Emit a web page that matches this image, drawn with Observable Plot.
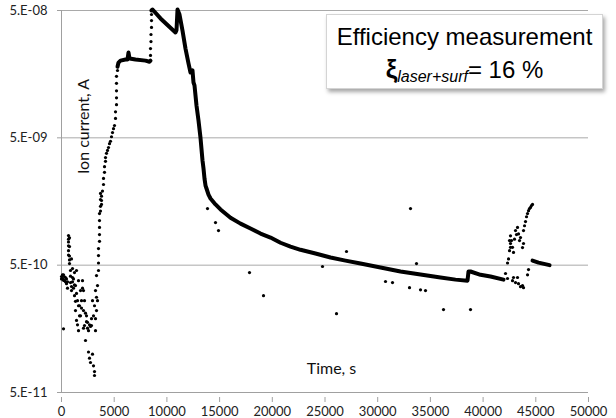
<!DOCTYPE html>
<html><head><meta charset="utf-8">
<script src="https://cdn.jsdelivr.net/npm/d3@7"></script>
<script src="https://cdn.jsdelivr.net/npm/@observablehq/plot@0.6"></script>
<style>
body{margin:0;background:#fff;}
#wrap{position:relative;width:616px;height:418px;overflow:hidden;background:#fff;}
#note{position:absolute;left:326px;top:14px;width:277px;height:75px;background:#fff;border:1px solid #d4d4d4;box-shadow:2px 3px 4px rgba(0,0,0,0.35);font-family:"Liberation Sans",Arial,sans-serif;color:#000;box-sizing:border-box;}
#note .l{position:absolute;left:0;right:0;text-align:center;font-size:24px;line-height:24px;white-space:nowrap;}
#note .l1{top:9.7px;}
#note .l2{top:41.7px;}
#note b{font-size:26px;font-weight:bold;}
#note i{font-size:16px;vertical-align:-4px;}
</style></head><body><div id="wrap"><div id="note"><div class="l l1">Efficiency measurement</div><div class="l l2"><b>ξ</b><i>laser+surf</i>= 16 %</div></div></div>
<script>
// Tick values and labels
const xTicks = [0,5000,10000,15000,20000,25000,30000,35000,40000,45000,50000];
const xTickLabels = ["0","5000","10000","15000","20000","25000","30000","35000","40000","45000","50000"];
const yTicks = [5e-11,5e-10,5e-9,5e-8];
const yTickLabels = ["5.E-11","5.E-10","5.E-09","5.E-08"];
const gridValues = [5e-10,5e-9,5e-8];

// Noisy start (time s, current A)
const earlyPoints = [
 [0,4.07e-10],[0,3.9e-10],[95,3.93e-10],[95,4.2e-10],[190,4.2e-10],[190,3.8e-10],[285,3.78e-10],[285,4.05e-10],[380,4.0e-10],[380,3.7e-10],[474,3.58e-10],[474,3.9e-10],[190,1.58e-10],
 [569,3.7e-10],[569,3.3e-10],
 [664,8.54e-10],[664,8.0e-10],[664,7.6e-10],[664,7.1e-10],[664,6.5e-10],[664,6.0e-10],[759,8.2e-10],[759,7.0e-10],[759,5.9e-10],[759,5.5e-10],[759,5.15e-10],
 [854,4.54e-10],[854,4.1e-10],[854,3.65e-10],[949,5.6e-10],[949,3.4e-10],[949,3.16e-10],[1044,4.0e-10],[1044,4.7e-10],[1044,3.7e-10],[1139,3.9e-10],[1139,3.3e-10],
 [1233,4.37e-10],[1233,3.5e-10],[1233,2.88e-10],[1328,3.46e-10],[1328,2.6e-10],[1328,2.2e-10],[1423,4.54e-10],[1423,3.0e-10],[1423,1.84e-10],[1518,2.63e-10],[1518,1.7e-10],
 [1613,3.78e-10],[1613,2.4e-10],[1613,1.53e-10],[1708,2.4e-10],[1708,2.0e-10],[1803,3.16e-10],[1803,2.0e-10],[1898,2.63e-10],[1898,2.3e-10],
 [1992,3.78e-10],[1992,3.3e-10],[2087,3.16e-10],[2087,2.2e-10],[2087,1.6e-10],[2182,2.63e-10],[2182,1.68e-10],[2277,1.28e-10],[2277,2.1e-10],[2372,2.0e-10],[2372,1.8e-10],
 [2467,1.78e-10],[2467,1.6e-10],[2562,1.53e-10],[2562,1.04e-10],[2657,9.3e-11],[2657,1.7e-10],[2751,8.6e-11],[2751,1.65e-10],[2846,1.68e-10],[2846,1.9e-10],
 [2941,2.63e-10],[2941,1.0e-10],[3036,2.0e-10],[3036,8.1e-11],[3131,6.8e-11],[3131,7.3e-11],[3131,2.4e-10],[3226,3.16e-10],[3226,1.53e-10],[3226,1.9e-10],
 [3321,4.14e-10],[3321,2.2e-10],[3321,2.8e-10],[3416,3.46e-10],[3416,2.63e-10]
];

// Sparse rise to the first plateau
const risePoints = [
 [3510,4.54e-10],[3510,5.2e-10],[3510,5.95e-10],[3510,6.75e-10],[3605,7.7e-10],[3605,8.7e-10],[3605,9.9e-10],[3605,1.12e-9],[3605,1.27e-9],
 [3700,1.33e-9],[3700,1.45e-9],[3700,1.64e-9],[3700,1.83e-9],[3795,1.5e-9],[3795,1.61e-9],[3795,1.74e-9],[3890,1.91e-9],[3985,2.15e-9],[3985,2.4e-9],
 [4080,2.68e-9],[4080,2.97e-9],[4175,3.27e-9],[4175,3.5e-9],[4270,3.78e-9],[4364,3.98e-9],[4459,4.2e-9],[4554,4.5e-9],[4649,4.7e-9],[4744,5.1e-9],
 [4839,5.5e-9],[4934,5.9e-9],[5029,6.25e-9],[5123,7.1e-9],[5123,8.0e-9],[5218,9.1e-9],[5218,1.03e-8],[5218,1.17e-8],[5218,1.34e-8],[5218,1.52e-8],[5313,1.69e-8],
 [8444,2.22e-8],[8444,2.51e-8],[8490,2.85e-8],[8490,3.24e-8],[8539,3.68e-8],[8539,4.17e-8],[8539,4.65e-8]
];

// Dense plateau
const plateauPoints = [
 [5313,1.81e-8],[5408,1.95e-8],[5598,2.02e-8],[6072,2.06e-8],[6262,2.06e-8],[6357,2.34e-8],[6452,2.1e-8],[7021,2.06e-8],[7970,2.02e-8],[8349,1.98e-8],[8444,2.02e-8]
];

// Peaks and long decay
const decayPoints = [
 [8539,5.0e-8],[8634,5.09e-8],[9393,4.33e-8],[10816,3.36e-8],[10911,3.5e-8],[11006,5.09e-8],[11196,4.65e-8],[11480,3.48e-8],[11764,2.51e-8],
 [12049,1.92e-8],[12239,1.63e-8],[12428,1.69e-8],[12524,1.36e-8],[12618,1.29e-8],[12808,8.97e-9],[12998,6.84e-9],[13188,5.0e-9],[13378,3.32e-9],
 [13473,2.87e-9],[13568,2.39e-9],[13663,2.11e-9],[13757,2.0e-9],[13947,1.79e-9],[14137,1.67e-9],[14611,1.5e-9],[15086,1.37e-9],[16035,1.18e-9],
 [16984,1.06e-9],[17932,9.7e-10],[18881,8.85e-10],[19830,8.24e-10],[20779,7.5e-10],[21728,7.0e-10],[22676,6.6e-10],[24099,6.17e-10],[25522,5.74e-10],
 [26945,5.43e-10],[28369,5.15e-10],[30266,4.8e-10],[32164,4.46e-10],[34062,4.22e-10],[35959,4.0e-10],[37383,3.85e-10],[38521,3.78e-10],
 [38616,4.46e-10],[38806,4.46e-10],[39755,4.2e-10],[40704,4.07e-10],[41937,3.85e-10]
];

// Final bump
const endPoints = [[44689,5.43e-10],[45258,5.24e-10],[46302,5.0e-10]];

// Burst near the end
const spikePoints = [
 [42127,4.3e-10],[42317,5.2e-10],[42317,3.93e-10],[42412,5.6e-10],[42507,6.5e-10],[42507,7.8e-10],[42601,7.4e-10],[42601,8.5e-10],[42601,6.9e-10],
 [42696,7.8e-10],[42791,3.78e-10],[42791,6.9e-10],[42886,6.3e-10],[42886,4.0e-10],[42981,8.0e-10],[43076,9.35e-10],[43076,3.65e-10],[43171,8.7e-10],
 [43266,9.9e-10],[43266,4.0e-10],[43360,8.8e-10],[43360,3.58e-10],[43455,7.8e-10],[43550,8.24e-10],[43550,3.39e-10],[43740,6.87e-10],[43740,3.46e-10],
 [43835,7.4e-10],[43835,9.35e-10],[43835,3.33e-10],[43930,1.02e-9],[44025,1.1e-9],[44120,1.2e-9],[44215,1.27e-9],[44215,4.2e-10],[44310,1.34e-9],
 [44310,4.62e-10],[44404,1.39e-9],[44499,1.42e-9],[44594,1.47e-9],[44689,1.5e-9]
];

// Isolated outliers
const outlierPoints = [
 [13852,1.39e-9],[14611,1.08e-9],[14896,9.35e-10],[17837,4.37e-10],[19166,2.88e-10],[24764,4.88e-10],[27040,6.4e-10],[26092,2.08e-10],
 [30741,3.72e-10],[31405,3.65e-10],[33113,1.39e-9],[33682,5.15e-10],[33018,3.33e-10],[34062,3.2e-10],[34536,3.16e-10],[36244,2.24e-10],[38806,2.24e-10]
];

const toRows = (arr) => arr.map(([t, v]) => ({t, v}));
const dots = toRows([...earlyPoints, ...risePoints, ...spikePoints, ...outlierPoints]);
const lines = [
  ...toRows(plateauPoints).map(d => ({...d, s: "plateau"})),
  ...toRows(decayPoints).map(d => ({...d, s: "decay"})),
  ...toRows(endPoints).map(d => ({...d, s: "end"}))
];

const font = "Lato, 'Open Sans', sans-serif";
const axisGrey = "#a0a0a0";
const chart = Plot.plot({
  width: 616,
  height: 418,
  marginLeft: 61,
  marginRight: 28,
  marginTop: 10,
  marginBottom: 26,
  style: {fontFamily: font, fontSize: "13px", background: "white", color: "#222"},
  x: {domain: [0, 50000], axis: null},
  y: {type: "log", domain: [5e-11, 5e-8], axis: null},
  marks: [
    Plot.ruleY(gridValues, {stroke: "#a9a9a9", strokeWidth: 1}),
    Plot.ruleX([0], {stroke: axisGrey, strokeWidth: 1}),
    Plot.ruleY([5e-11], {stroke: axisGrey, strokeWidth: 1}),
    // x axis: downward ticks and labels
    Plot.tickX(xTicks, {x: d => d, insetTop: 387, dy: 5, stroke: axisGrey, strokeWidth: 1}),
    Plot.text(xTicks, {x: d => d, text: (d, i) => xTickLabels[i], frameAnchor: "bottom", dy: 14, textAnchor: "middle", lineAnchor: "top", fontSize: 13, fill: "#222"}),
    // y axis: small outward ticks and labels
    Plot.tickY(yTicks, {y: d => d, insetRight: 523, dx: -4, stroke: axisGrey, strokeWidth: 1}),
    Plot.text(yTicks, {y: d => d, text: (d, i) => yTickLabels[i], frameAnchor: "left", dx: -14, textAnchor: "end", lineAnchor: "middle", fontSize: 13, fill: "#222"}),
    Plot.line(lines, {x: "t", y: "v", z: "s", stroke: "black", strokeWidth: 4, strokeLinejoin: "round", strokeLinecap: "round"}),
    Plot.dot(dots, {x: "t", y: "v", r: 1.6, fill: "black", stroke: null}),
    Plot.text(["Ion current, A"], {frameAnchor: "top-left", dx: 27, dy: 116, rotate: -90, textAnchor: "middle", lineAnchor: "bottom", fontSize: 16, fill: "#111"}),
    Plot.text(["Time, s"], {frameAnchor: "top-left", dx: 270, dy: 363, textAnchor: "middle", lineAnchor: "bottom", fontSize: 16, fill: "#111"})
  ]
});
document.getElementById("wrap").prepend(chart);
</script>
</body></html>
